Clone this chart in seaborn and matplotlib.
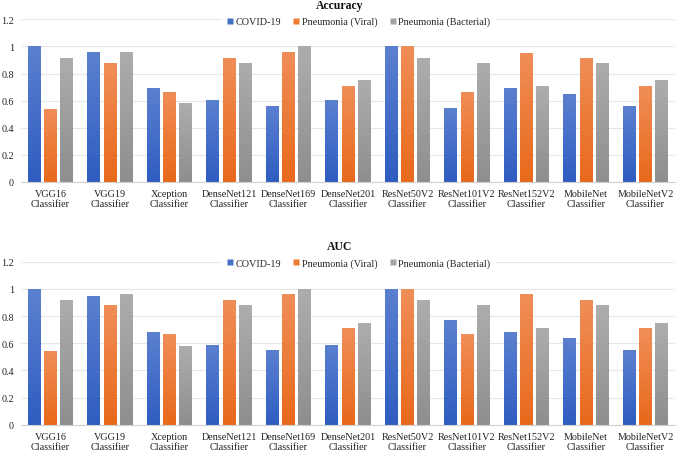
import numpy as np
import pandas as pd
import matplotlib
matplotlib.use("Agg")
import matplotlib.pyplot as plt
import seaborn as sns
from matplotlib.lines import Line2D
from matplotlib.colors import LinearSegmentedColormap, to_hex

models = ["VGG16\nClassifier", "VGG19\nClassifier", "Xception\nClassifier",
          "DenseNet121\nClassifier", "DenseNet169\nClassifier", "DenseNet201\nClassifier",
          "ResNet50V2\nClassifier", "ResNet101V2\nClassifier", "ResNet152V2\nClassifier",
          "MobileNet\nClassifier", "MobileNetV2\nClassifier"]
series = ["COVID-19", "Pneumonia (Viral)", "Pneumonia (Bacterial)"]

acc_covid = [1.00, 0.958, 0.695, 0.608, 0.56, 0.608, 1.00, 0.544, 0.695, 0.65, 0.56]
acc_viral = [0.54, 0.877, 0.665, 0.916, 0.96, 0.707, 1.00, 0.665, 0.953, 0.916, 0.707]
acc_bact = [0.916, 0.96, 0.58, 0.877, 1.00, 0.75, 0.916, 0.877, 0.707, 0.877, 0.75]

auc_covid = [1.00, 0.95, 0.68, 0.59, 0.55, 0.59, 1.00, 0.77, 0.68, 0.64, 0.55]
auc_viral = [0.54, 0.88, 0.67, 0.92, 0.96, 0.71, 1.00, 0.67, 0.96, 0.92, 0.71]
auc_bact = [0.92, 0.96, 0.58, 0.88, 1.00, 0.75, 0.92, 0.88, 0.71, 0.88, 0.75]

ytick_vals = [0, 0.2, 0.4, 0.6, 0.8, 1.0, 1.2]
ytick_labels = ["0", "0.2", "0.4", "0.6", "0.8", "1", "1.2"]

base_colors = ["#4472C4", "#ED7D31", "#A5A5A5"]
grad_top = ["#5C80D0", "#F08E58", "#ADADAD"]
grad_bot = ["#2E5DC0", "#E8691A", "#8E8E8E"]


def long_df(a, b, c):
    rows = []
    for vals, s in zip([a, b, c], series):
        for m, v in zip(models, vals):
            rows.append({"model": m, "series": s, "value": v})
    return pd.DataFrame(rows)


sns.set_theme(style="white")
plt.rcParams["font.family"] = ["Liberation Serif", "DejaVu Serif"]

fig = plt.figure(figsize=(6.77, 4.52), dpi=100)
ax1 = fig.add_axes([20.75 / 677, (452 - 183) / 452, 654.5 / 677, 162.7 / 452])
ax2 = fig.add_axes([20.75 / 677, (452 - 425.7) / 452, 654.5 / 677, 163.0 / 452])


def draw(ax, df, title, title_y, legend_y):
    sns.barplot(data=df, x="model", y="value", hue="series", order=models,
                hue_order=series, palette=base_colors, width=0.822, gap=0.22,
                ax=ax, legend=False, errorbar=None, saturation=1)
    ax.set_xlim(-0.5, len(models) - 0.5)
    ax.set_ylim(0, 1.2)
    ax.set_yticks(ytick_vals)
    ax.set_yticklabels(ytick_labels)
    ax.grid(axis="y", color="#E6E6E6", linewidth=0.8, zorder=0)
    ax.set_axisbelow(True)
    for sp in ["top", "right", "left"]:
        ax.spines[sp].set_visible(False)
    ax.spines["bottom"].set_color("#D0D0D0")
    ax.spines["bottom"].set_linewidth(0.8)
    ax.tick_params(axis="both", length=0, labelsize=7.3, colors="#222222")
    ax.tick_params(axis="y", pad=5)
    ax.tick_params(axis="x", pad=5)
    ax.set_xlabel("")
    ax.set_ylabel("")
    # gradient fill
    grad = np.linspace(0, 1, 256).reshape(-1, 1)
    hex_map = {to_hex(c): i for i, c in enumerate(base_colors)}
    for p in list(ax.patches):
        idx = hex_map.get(to_hex(p.get_facecolor()))
        if idx is None:
            continue
        cmap = LinearSegmentedColormap.from_list("g", [grad_top[idx], grad_bot[idx]])
        x0, y0 = p.get_x(), p.get_y()
        w, h = p.get_width(), p.get_height()
        im = ax.imshow(grad, extent=[x0, x0 + w, y0, y0 + h], cmap=cmap,
                       aspect="auto", origin="upper", zorder=p.get_zorder() + 0.1)
        im.set_clip_path(p)
        p.set_edgecolor("none")
    ax.set_xlim(-0.5, len(models) - 0.5)
    ax.set_ylim(0, 1.2)
    handles = [Line2D([], [], marker="s", linestyle="none", markersize=4.5,
                      markerfacecolor=c, markeredgecolor="none") for c in base_colors]
    leg = fig.legend(handles, series, loc="center", bbox_to_anchor=(0.5296, legend_y),
                     ncol=3, frameon=True, fontsize=7.3, handlelength=0.6,
                     handletextpad=0.25, columnspacing=1.2, borderpad=0.3,
                     borderaxespad=0)
    leg.get_frame().set_facecolor("white")
    leg.get_frame().set_edgecolor("white")
    leg.get_frame().set_linewidth(4)
    leg.get_frame().set_alpha(1)
    leg.set_zorder(5)
    fig.text(0.502, title_y, title, ha="center", va="center", fontsize=8.5,
             fontweight="bold", color="#111111", zorder=10)


draw(ax1, long_df(acc_covid, acc_viral, acc_bact), "Accuracy", 1 - 5.5 / 452, 1 - 22.5 / 452)
draw(ax2, long_df(auc_covid, auc_viral, auc_bact), "AUC", 1 - 247 / 452, 1 - 264 / 452)

fig.savefig("out.png", dpi=100)
